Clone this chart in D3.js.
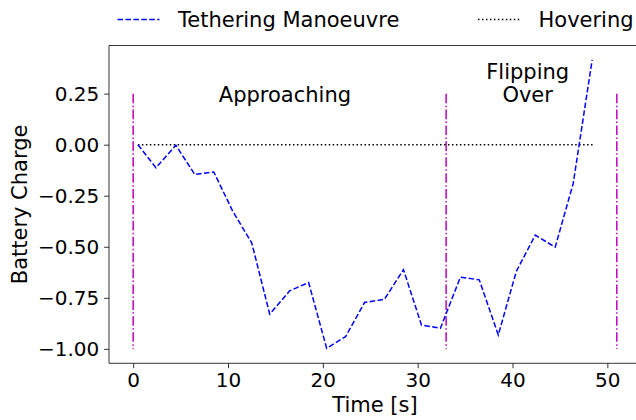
<!DOCTYPE html>
<html>
<head>
<meta charset="utf-8">
<script src="https://cdn.jsdelivr.net/npm/d3@7"></script>
<style>
  body { margin: 0; background: white; }
  svg { display: block; }
</style>
</head>
<body>
<script>
// data
var time_s = [0.5, 2.4, 4.5, 6.5, 8.5, 10.5, 12.5, 14.4, 16.5, 18.5, 20.4, 22.4, 24.4,
              26.5, 28.5, 30.4, 32.4, 34.5, 36.5, 38.5, 40.4, 42.4, 44.5, 46.4, 48.4];
var charge = [0, -0.113, -0.003, -0.146, -0.134, -0.326, -0.481, -0.830, -0.716, -0.675,
              -0.997, -0.940, -0.773, -0.757, -0.612, -0.883, -0.899, -0.649, -0.662,
              -0.932, -0.621, -0.443, -0.502, -0.19, 0.415];
var hover_x = [0.5, 48.5];
var hover_y = [0, 0];
var phase_x = [0, 33, 51];
var phase_y = [-1.0, 0.25];
var x_ticks = [0, 10, 20, 30, 40, 50];
var y_ticks = [0.25, 0, -0.25, -0.5, -0.75, -1.0];
var legend_labels = ["Tethering Manoeuvre", "Hovering"];

var w = 636, h = 420;
var font = "DejaVu Sans, sans-serif";
var tick_font_size = 20;
var label_font_size = 21;

var svg = d3.select("body").append("svg").attr("width", w).attr("height", h);

// matplotlib style 5% margins
var x = d3.scaleLinear().domain([-2.55, 53.55]).range([109, 641]);
var y = d3.scaleLinear().domain([-1.0707, 0.4857]).range([363.3, 45.5]);

var fmt = function(d){ return d3.format(".2f")(d).replace("-", "\u2212"); };

// x axis
var xAxis = svg.append("g").attr("transform", "translate(0," + y.range()[0] + ")")
  .call(d3.axisBottom(x).tickValues(x_ticks).tickSize(4.9).tickPadding(4.9).tickFormat(d3.format("d")));
xAxis.select(".domain").remove();
xAxis.selectAll("text").attr("font-family", font).attr("font-size", tick_font_size).attr("fill", "black");
xAxis.selectAll("line").attr("stroke-width", 0.8);

// y axis
var yAxis = svg.append("g").attr("transform", "translate(" + x.range()[0] + ",0)")
  .call(d3.axisLeft(y).tickValues(y_ticks).tickSize(4.9).tickPadding(4.9).tickFormat(fmt));
yAxis.select(".domain").remove();
yAxis.selectAll("text").attr("font-family", font).attr("font-size", tick_font_size).attr("fill", "black");
yAxis.selectAll("line").attr("stroke-width", 0.8);

// spines (right spine falls outside the picture)
var x0 = x.range()[0], x1 = x.range()[1], y0 = y.range()[0], y1 = y.range()[1];
svg.append("path")
  .attr("d", "M" + x1 + "," + y1 + "H" + x0 + "V" + y0 + "H" + x1)
  .attr("fill", "none").attr("stroke", "black").attr("stroke-width", 0.8);

// phase markers
svg.selectAll(".phase").data(phase_x).enter().append("line")
  .attr("class", "phase")
  .attr("x1", function(d){ return x(d); }).attr("x2", function(d){ return x(d); })
  .attr("y1", y(phase_y[1])).attr("y2", y(phase_y[0]))
  .attr("stroke", "#bf00bf").attr("stroke-width", 1.5)
  .attr("stroke-dasharray", "9.6,2.4,1.5,2.4");

var line = d3.line().x(function(d){ return x(d[0]); }).y(function(d){ return y(d[1]); });

// hovering reference
svg.append("path")
  .datum(d3.zip(hover_x, hover_y))
  .attr("d", line)
  .attr("fill", "none").attr("stroke", "black").attr("stroke-width", 1.5)
  .attr("stroke-dasharray", "1.5,2.475");

// tethering manoeuvre
svg.append("path")
  .datum(d3.zip(time_s, charge))
  .attr("d", line)
  .attr("fill", "none").attr("stroke", "#0000ff").attr("stroke-width", 1.5)
  .attr("stroke-dasharray", "5.55,2.4");

// phase annotations
var place_text = function(text, px, py){
  svg.append("text")
    .attr("x", px).attr("y", py)
    .attr("font-family", font).attr("font-size", label_font_size)
    .attr("text-anchor", "middle").attr("fill", "black")
    .text(text);
};
place_text("Approaching", x(16), y(0.25) + 8.5);
place_text("Flipping", x(41.6), y(0.25) - 14.5);
place_text("Over", x(41.6), y(0.25) + 8.5);

// axis labels
svg.append("text")
  .attr("x", (x0 + x1) / 2).attr("y", 412)
  .attr("font-family", font).attr("font-size", label_font_size)
  .attr("text-anchor", "middle").text("Time [s]");
svg.append("text")
  .attr("transform", "translate(27," + (y0 + y1) / 2 + ") rotate(-90)")
  .attr("font-family", font).attr("font-size", label_font_size)
  .attr("text-anchor", "middle").text("Battery Charge");

// legend above the axes, two columns, no frame
var legend_x = [117.5, 478];
var legend_dash = ["5.55,2.4", "1.5,2.475"];
var legend_color = ["#0000ff", "black"];
legend_labels.forEach(function(lab, i){
  svg.append("line")
    .attr("x1", legend_x[i]).attr("x2", legend_x[i] + 42)
    .attr("y1", 19.5).attr("y2", 19.5)
    .attr("stroke", legend_color[i]).attr("stroke-width", 1.5)
    .attr("stroke-dasharray", legend_dash[i]);
  svg.append("text")
    .attr("x", legend_x[i] + 60.5).attr("y", 27.3)
    .attr("font-family", font).attr("font-size", label_font_size)
    .attr("fill", "black").text(lab);
});
</script>
</body>
</html>
